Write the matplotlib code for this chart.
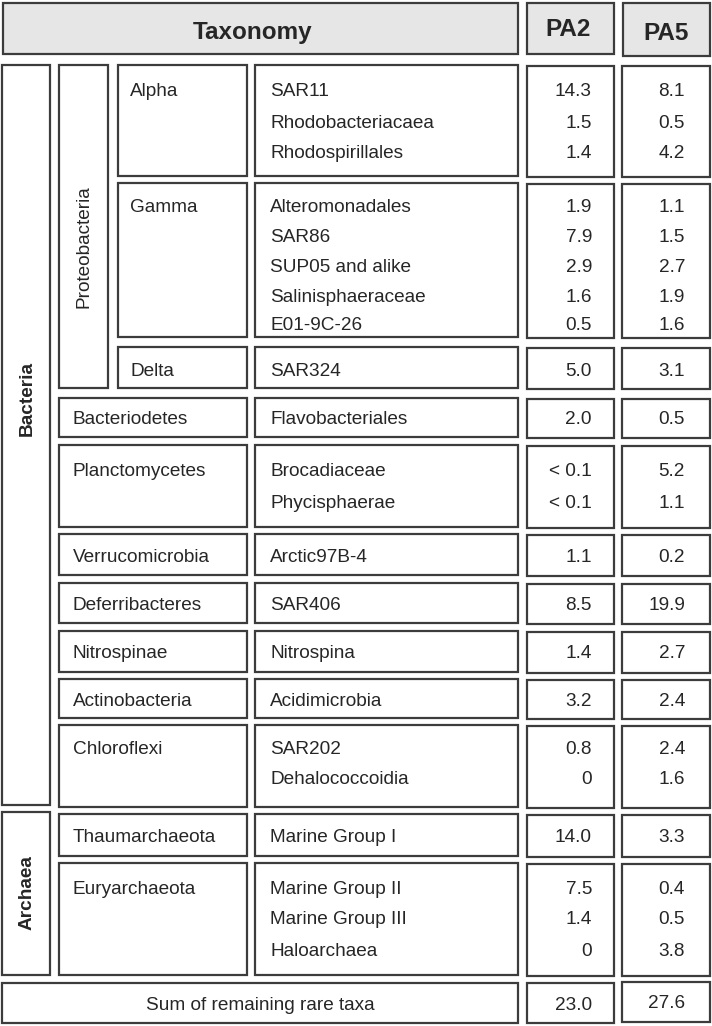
import matplotlib
matplotlib.use('Agg')
import matplotlib.pyplot as plt
from matplotlib.patches import Rectangle

plt.rcParams['font.family'] = ['Liberation Sans', 'DejaVu Sans']

# ---- data ----
taxa = ['SAR11', 'Rhodobacteriacaea', 'Rhodospirillales',
        'Alteromonadales', 'SAR86', 'SUP05 and alike', 'Salinisphaeraceae', 'E01-9C-26',
        'SAR324', 'Flavobacteriales', 'Brocadiaceae', 'Phycisphaerae',
        'Arctic97B-4', 'SAR406', 'Nitrospina', 'Acidimicrobia',
        'SAR202', 'Dehalococcoidia', 'Marine Group I',
        'Marine Group II', 'Marine Group III', 'Haloarchaea']
pa2 = ['14.3', '1.5', '1.4', '1.9', '7.9', '2.9', '1.6', '0.5', '5.0', '2.0',
       '< 0.1', '< 0.1', '1.1', '8.5', '1.4', '3.2', '0.8', '0', '14.0', '7.5', '1.4', '0']
pa5 = ['8.1', '0.5', '4.2', '1.1', '1.5', '2.7', '1.9', '1.6', '3.1', '0.5',
       '5.2', '1.1', '0.2', '19.9', '2.7', '2.4', '2.4', '1.6', '3.3', '0.4', '0.5', '3.8']
# group label and the number of taxa it holds
groups = [('Alpha', 3), ('Gamma', 5), ('Delta', 1), ('Bacteriodetes', 1),
          ('Planctomycetes', 2), ('Verrucomicrobia', 1), ('Deferribacteres', 1),
          ('Nitrospinae', 1), ('Actinobacteria', 1), ('Chloroflexi', 2),
          ('Thaumarchaeota', 1), ('Euryarchaeota', 3)]
rare_label = 'Sum of remaining rare taxa'
rare_pa2, rare_pa5 = '23.0', '27.6'

# ---- layout (pixels) ----
row_y = [90, 122, 152, 206, 236, 266, 295, 324, 370, 418, 469, 501,
         556, 603, 651, 699, 747, 777, 836, 887, 917, 950]
box_y = [(65, 176), (183, 337), (347, 388), (398, 437), (445, 527), (534, 575),
         (583, 623), (631, 672), (679, 718), (725, 807), (814, 856), (863, 975)]

EDGE = '#3c3c3c'
TXT = '#262626'
LW = 1.6
FS = 13.7
DY = 2  # va='center' sits a bit high for this font

fig = plt.figure(figsize=(7.12, 10.26), dpi=100)
ax = fig.add_axes([0, 0, 1, 1])
ax.set_xlim(0, 712)
ax.set_ylim(1026, 0)
ax.axis('off')


def box(x0, y0, x1, y1, fc='white'):
    ax.add_patch(Rectangle((x0, y0), x1 - x0, y1 - y0, fc=fc, ec=EDGE, lw=LW))


def txt(x, y, s, **kw):
    kw.setdefault('fontsize', FS)
    ax.text(x, y + DY, s, va='center', color=TXT, **kw)


# header
box(3, 3, 518, 54, fc='#e6e6e6')
box(527, 3, 614, 54, fc='#e6e6e6')
box(623, 3, 710, 56, fc='#e6e6e6')
txt(253, 30, 'Taxonomy', ha='center', fontsize=17.5, fontweight='bold')
txt(568, 28, 'PA2', ha='center', fontsize=17.5, fontweight='bold')
txt(666, 32, 'PA5', ha='center', fontsize=17.5, fontweight='bold')

# domain / phylum vertical boxes
box(2, 65, 50, 805)
ax.text(27, 398, 'Bacteria', rotation=90, ha='center', va='center', fontsize=FS,
        fontweight='bold', color=TXT)
box(2, 812, 50, 975)
ax.text(27, 893, 'Archaea', rotation=90, ha='center', va='center', fontsize=FS,
        fontweight='bold', color=TXT)
box(59, 65, 108, 388)
ax.text(84, 247, 'Proteobacteria', rotation=90, ha='center', va='center', fontsize=FS,
        color=TXT)

# group boxes, taxa and values
i = 0
for g, (label, n) in enumerate(groups):
    y0, y1 = box_y[g]
    x0 = 118 if g < 3 else 59
    box(x0, y0, 247, y1)
    txt(x0 + (12 if g < 3 else 14), row_y[i], label, ha='left')
    box(255, y0, 518, y1)
    box(527, y0 + 1, 614, y1 + 1)
    box(622, y0 + 1, 710, y1 + 1)
    for k in range(i, i + n):
        txt(270, row_y[k], taxa[k], ha='left')
        txt(592, row_y[k], pa2[k], ha='right')
        txt(685, row_y[k], pa5[k], ha='right')
    i += n

# rare taxa row
box(2, 983, 518, 1023)
box(527, 983, 614, 1023)
box(622, 982, 710, 1022)
txt(260, 1004, rare_label, ha='center')
txt(592, 1004, rare_pa2, ha='right')
txt(685, 1002, rare_pa5, ha='right')

fig.savefig('out.png', dpi=100)
